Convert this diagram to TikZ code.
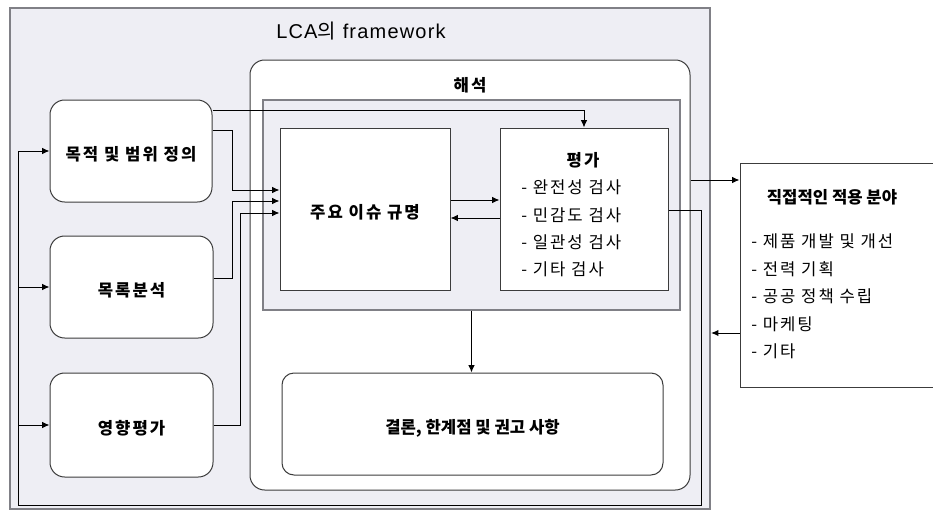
\documentclass[tikz,border=0pt]{standalone}
\usepackage{fontspec}
\setmainfont{Liberation Sans}
\newfontfamily\titleFont[LetterSpace=6]{Liberation Sans}
\newfontfamily\krFont[LetterSpace=12]{Noto Sans CJK KR}
\newfontfamily\krPlain{Noto Sans CJK KR}
\usetikzlibrary{arrows.meta}
\definecolor{frameFill}{RGB}{238,238,244}
\definecolor{frameLine}{RGB}{128,128,134}
\definecolor{boxLine}{RGB}{60,60,60}
\begin{document}
\begin{tikzpicture}[x=0.75pt,y=-0.75pt]
        \tikzstyle{frameBox}=[draw=frameLine,fill=frameFill,line width=1.6pt,inner sep=0pt]
        \tikzstyle{panelBox}=[draw=frameLine,fill=frameFill,line width=1.2pt,inner sep=0pt]
        \tikzstyle{roundBox}=[draw=boxLine,fill=white,rounded corners=11pt,line width=0.75pt,inner sep=0pt,text height=15.5pt,text depth=1.5pt,font=\krFont\fontsize{12.5}{15}\selectfont\bfseries]
        \tikzstyle{squareBox}=[draw=boxLine,fill=white,line width=0.75pt,inner sep=0pt,text height=15.5pt,text depth=1.5pt,font=\krFont\fontsize{12.5}{15}\selectfont\bfseries]
        \tikzstyle{titleText}=[inner sep=0pt,font=\krFont\fontsize{12.5}{15}\selectfont\bfseries]
        \tikzstyle{listText}=[inner sep=0pt,anchor=west,align=left,font=\krFont\fontsize{12.5}{20.6}\selectfont]
        \tikzstyle{flowArrow}=[-{Latex[length=5.5pt,width=4.8pt]}, line width=0.75pt]
    \useasboundingbox (0,0) rectangle (933,511);

    \node[frameBox,minimum width=525pt,minimum height=375.75pt] (frame) at (360,258.5) {};
    \node[inner sep=0pt,font=\titleFont\fontsize{15}{18}\selectfont] (frameTitle) at (361,31) {LCA{\krPlain 의} framework};

    \node[roundBox,minimum width=330pt,minimum height=322.5pt] (interp) at (470,275) {};
    \node[titleText] (interpTitle) at (470,85) {해석};
    \node[panelBox,minimum width=312.75pt,minimum height=157.5pt] (panel) at (471.5,205) {};

    \node[squareBox,minimum width=127.5pt,minimum height=121.5pt] (issue) at (365,209) {주요 이슈 규명};
    \node[squareBox,minimum width=126pt,minimum height=121.5pt] (eval) at (584,209) {};
    \node[titleText] (evalTitle) at (583,160) {평가};
    \node[listText] (evalList) at (521,228.5) {- 완전성 검사\\- 민감도 검사\\- 일관성 검사\\- 기타 검사};

    \node[roundBox,rounded corners=9pt,minimum width=285.75pt,minimum height=76.5pt,font=\krPlain\fontsize{12.5}{15}\selectfont\bfseries] (conclusion) at (472.5,424) {결론, 한계점 및 권고 사항};

    \node[roundBox,minimum width=121.5pt,minimum height=76.5pt] (goal) at (131,151) {목적 및 범위 정의};
    \node[roundBox,minimum width=122.25pt,minimum height=76.5pt] (inventory) at (131.5,287) {목록분석};
    \node[roundBox,minimum width=122.25pt,minimum height=78pt] (impact) at (131.5,425) {영향평가};

    \node[squareBox,minimum width=145.5pt,minimum height=168pt] (app) at (837,275) {};
    \node[titleText,font=\krPlain\fontsize{12.5}{15}\selectfont\bfseries] (appTitle) at (832,197) {직접적인 적용 분야};
    \node[listText] (appList) at (751,296.5) {- 제품 개발 및 개선\\- 전력 기획\\- 공공 정책 수립\\- 마케팅\\- 기타};

    \coordinate (loopRight) at (701,505);
    \coordinate (loopLeft) at (18,505);

    \draw[flowArrow] (goal.east |- 0,110) -| (eval.north);
    \draw[flowArrow] (goal.east |- 0,130) -- ++(20,0) |- (issue.west |- 0,190);
    \draw[flowArrow] (inventory.east |- 0,278) -- ++(19,0) |- (issue.west |- 0,201);
    \draw[flowArrow] (impact.east) -- ++(27,0) |- (issue.west |- 0,213);

    \draw[flowArrow] (issue.east |- 0,200) -- (eval.west |- 0,200);
    \draw[flowArrow] (eval.west |- 0,218) -- (issue.east |- 0,218);
    \draw[flowArrow] (panel.south) -- (panel.south |- conclusion.north);

    \draw[flowArrow] (interp.east |- 0,180) -- (app.west |- 0,180);
    \draw[flowArrow] (app.west |- 0,333) -- (frame.east |- 0,333);

    \draw[flowArrow] (eval.east |- 0,210) -| (loopRight) -- (loopLeft) |- (goal.west);
    \draw[flowArrow] (loopLeft |- inventory.west) -- (inventory.west);
    \draw[flowArrow] (loopLeft |- impact.west) -- (impact.west);
    \end{tikzpicture}
\end{document}
